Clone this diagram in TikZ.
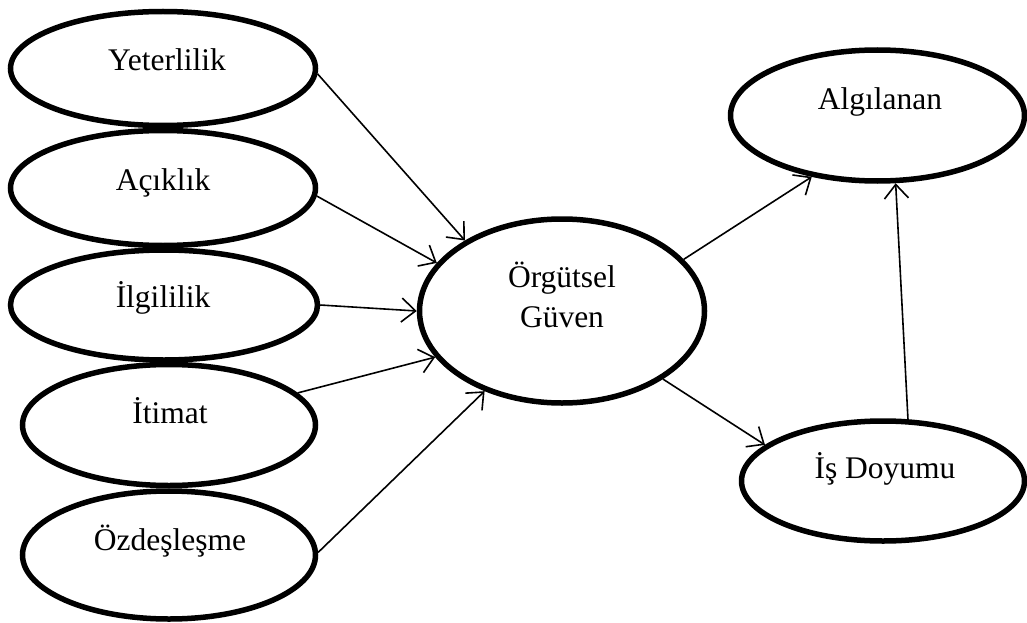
\documentclass[tikz,border=0pt]{standalone}
\usepackage{fontspec}
\setmainfont{Liberation Serif}
\usetikzlibrary{arrows.meta,shapes.geometric}
\begin{document}
\begin{tikzpicture}[x=1pt,y=-1pt,
  oval/.style={ellipse,draw=black,line width=5.5pt,fill=none,inner sep=0pt},
  lbl/.style={anchor=base,inner sep=0pt,font=\fontsize{31.5}{37}\selectfont},
  conn/.style={draw=black,line width=1.6pt,-{Straight Barb[length=14pt,width=24pt,line width=1.6pt]}}]
\fill[white] (0,0) rectangle (1027,623);
\useasboundingbox (0,0) rectangle (1027,623);
% ellipses
\node[oval,minimum width=305pt,minimum height=114pt] (Y) at (163,68.5) {};
\node[oval,minimum width=305pt,minimum height=115pt] (A) at (163,188) {};
\node[oval,minimum width=307pt,minimum height=110pt] (I) at (164,305) {};
\node[oval,minimum width=293pt,minimum height=121pt] (T) at (169,425) {};
\node[oval,minimum width=293pt,minimum height=128pt] (O) at (169,555) {};
\node[oval,minimum width=285pt,minimum height=184pt] (OG) at (562,311) {};
\node[oval,minimum width=294pt,minimum height=131pt] (AL) at (877.5,115.5) {};
\node[oval,minimum width=283pt,minimum height=120pt] (ID) at (883,481) {};
% labels
\node[lbl] (tY) at (167,71) {Yeterlilik};
\node[lbl] (tA) at (163,190) {Açıklık};
\node[lbl] (tI) at (163,307) {İlgililik};
\node[lbl] (tT) at (170,423) {İtimat};
\node[lbl] (tO) at (170,550) {Özdeşleşme};
\node[lbl] (tOG1) at (562,287) {Örgütsel};
\node[lbl] (tOG2) at (562,327) {Güven};
\node[lbl] (tAL) at (880,110) {Algılanan};
\node[lbl] (tID) at (885,478) {İş Doyumu};
% connectors
\draw[conn] (Y.-2) -- (OG.144);
\draw[conn] (A.-3) -- (OG.159);
\draw[conn] (I.0) -- (OG.180);
\draw[conn] (T.14) -- (OG.200);
\draw[conn] (O.1) -- (OG.226);
\draw[conn] (OG.23) -- (AL.223);
\draw[conn] (OG.-34) -- (ID.163);
\draw[conn] (ID.68) -- (AL.-75);
\end{tikzpicture}
\end{document}
